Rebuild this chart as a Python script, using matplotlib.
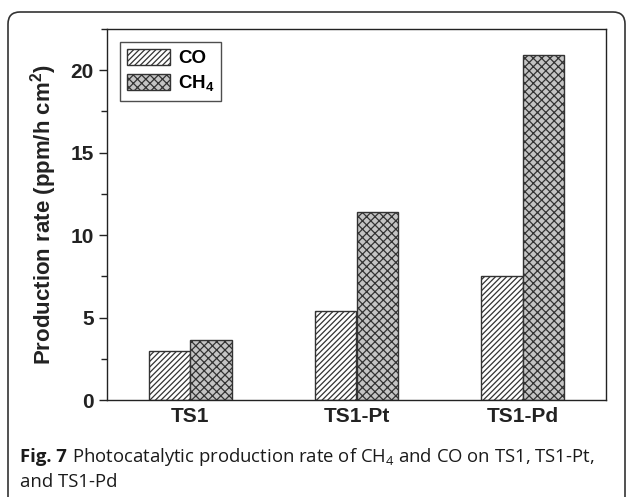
import matplotlib
matplotlib.use("Agg")
import matplotlib.pyplot as plt
import numpy as np
from matplotlib.patches import FancyBboxPatch, Patch
from matplotlib.transforms import IdentityTransform
from matplotlib.ticker import MultipleLocator

categories = ["TS1", "TS1-Pt", "TS1-Pd"]
co_values = [2.95, 5.4, 7.5]
ch4_values = [3.65, 11.4, 20.9]
series_labels = ["CO", "CH$_\\mathregular{4}$"]
y_ticks = [0, 5, 10, 15, 20]

plt.rcParams['font.family'] = ['Liberation Sans', 'DejaVu Sans']
plt.rcParams['hatch.linewidth'] = 0.9

W, H = 629, 497
fig = plt.figure(figsize=(W / 100, H / 100), dpi=100)
ax = fig.add_axes([107 / W, 1 - 400 / H, (606 - 107) / W, (400 - 29) / H])

x = np.arange(len(categories))
bw = 0.25
ink = '#222222'
co_hatch = '//////'
ch4_hatch = 'xxxx'
ax.bar(x - bw / 2, co_values, bw, facecolor='white', edgecolor='#333333',
       hatch=co_hatch, linewidth=1.0)
ax.bar(x + bw / 2, ch4_values, bw, facecolor='#c4c4c4', edgecolor='#333333',
       hatch=ch4_hatch, linewidth=1.0)

ax.set_xlim(-0.5, 2.5)
ax.set_ylim(0, 22.5)
ax.set_xticks(x)
ax.set_xticklabels(categories, fontsize=15, fontweight='bold', color=ink)
ax.tick_params(axis='x', length=0, pad=5)
ax.set_yticks(y_ticks)
ax.yaxis.set_minor_locator(MultipleLocator(2.5))
ax.tick_params(axis='y', which='major', length=6, width=1, direction='out',
               labelsize=15, colors=ink)
ax.tick_params(axis='y', which='minor', length=4, width=1, direction='out', colors=ink)
for lbl in ax.get_yticklabels():
    lbl.set_fontweight('bold')
for s in ax.spines.values():
    s.set_linewidth(1.0)
    s.set_color(ink)
ax.set_ylabel("Production rate (ppm/h cm$^\\mathregular{2}$)", fontsize=16,
              fontweight='bold', color=ink, labelpad=8)

handles = [Patch(facecolor='white', edgecolor='#333333', hatch=co_hatch),
           Patch(facecolor='#c4c4c4', edgecolor='#333333', hatch=ch4_hatch)]
leg = ax.legend(handles, series_labels, loc='upper left',
                bbox_to_anchor=(13 / 499, 1 - 13 / 371), frameon=True,
                fancybox=False, edgecolor=ink,
                prop={'weight': 'bold', 'size': 13.5},
                handlelength=2.3, handleheight=0.95, handletextpad=0.45,
                borderpad=0.35, labelspacing=0.35, borderaxespad=0)
leg.get_frame().set_linewidth(1.0)

# rounded border
border = FancyBboxPatch((8, -30), 625 - 8, (H - 12) + 30,
                        boxstyle="round,pad=0,rounding_size=12",
                        transform=IdentityTransform(), facecolor='none',
                        edgecolor='#333333', linewidth=1.2)
fig.patches.append(border)

# caption
cap_font = ['Open Sans', 'DejaVu Sans']
cap_size = 13.3
t1 = fig.text(20 / W, 1 - 457 / H, "Fig. 7", fontsize=cap_size, fontweight='bold',
              family=cap_font, color='#1a1a1a', va='center', ha='left')
fig.canvas.draw()
r = fig.canvas.get_renderer()
bb = t1.get_window_extent(r)
fig.text((bb.x1 + 5) / W, 1 - 457 / H,
         "Photocatalytic production rate of CH$_\\mathregular{4}$ and CO on TS1, TS1-Pt,",
         fontsize=cap_size, family=cap_font, color='#1a1a1a', va='center', ha='left')
fig.text(20 / W, 1 - 482 / H, "and TS1-Pd", fontsize=cap_size, family=cap_font,
         color='#1a1a1a', va='center', ha='left')

fig.savefig("out.png", dpi=100)
